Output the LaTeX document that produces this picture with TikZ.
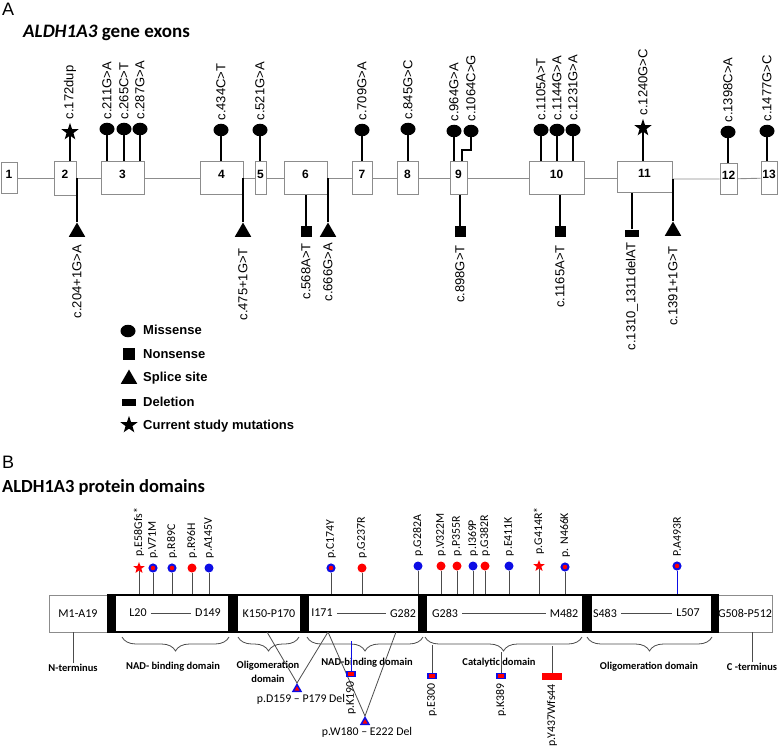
\documentclass[tikz,border=0pt]{standalone}
\usepackage{fontspec}
\setmainfont{Liberation Sans}
\newfontfamily\calibri{Carlito}
\usepackage{tikz}
\usetikzlibrary{shapes.geometric,decorations.pathreplacing,calc,positioning}
\definecolor{boxgray}{rgb}{0.55,0.55,0.55}
\definecolor{stemgray}{rgb}{0.3,0.3,0.3}
\definecolor{mutblue}{rgb}{0.05,0.05,0.9}
\definecolor{mutred}{rgb}{1,0,0}

\begin{document}
\begin{tikzpicture}[x=1pt,y=-1pt,
        exon/.style={draw=boxgray, fill=white, line width=0.9pt, inner sep=0pt, minimum height=33pt,
            text depth=8pt, font=\fontsize{12}{12}\selectfont\bfseries},
        miss/.style={ellipse, fill=black, minimum width=15pt, minimum height=12.5pt, inner sep=0pt},
        nons/.style={rectangle, fill=black, minimum size=11pt, inner sep=0pt},
        splice/.style={regular polygon, regular polygon sides=3, fill=black, minimum size=19pt, inner sep=0pt},
        dele/.style={rectangle, fill=black, minimum width=14pt, minimum height=7pt, inner sep=0pt},
        cstar/.style={star, star points=5, star point ratio=2.5, fill=black, minimum size=18pt, inner sep=0pt},
        stem/.style={line width=1.4pt},
        backbone/.style={draw=boxgray, line width=0.9pt},
        clab/.style={rotate=90, inner sep=1pt, font=\fontsize{13}{13}\selectfont},
        keytxt/.style={anchor=west, inner sep=0pt, font=\fontsize{13}{13}\selectfont\bfseries},
        dom/.style={draw=boxgray, fill=white, line width=0.8pt, minimum height=37pt, inner sep=0pt,
            font=\calibri\fontsize{12}{12}\selectfont},
        core/.style={dom, draw=black, line width=1.8pt},
        bar/.style={fill=black, minimum height=38.8pt, inner sep=0pt},
        dtxt/.style={inner sep=4pt, font=\calibri\fontsize{12}{12}\selectfont},
        gline/.style={draw=stemgray, line width=0.8pt},
        pstem/.style={draw=stemgray, line width=1pt},
        redhead/.style={circle, fill=mutred, minimum size=9pt, inner sep=0pt},
        bluehead/.style={circle, fill=mutblue, minimum size=9pt, inner sep=0pt},
        mixhead/.style={circle, fill=mutred, draw=mutblue, line width=2pt, minimum size=7pt, inner sep=0pt},
        redstar/.style={star, star points=5, star point ratio=2.4, fill=mutred, minimum size=12pt, inner sep=0pt},
        plab/.style={rotate=90, anchor=west, inner sep=1pt, font=\calibri\fontsize{11.8}{11.8}\selectfont},
        bsq/.style={rectangle, fill=mutred, draw=mutblue, line width=1.8pt, minimum width=8pt, minimum height=5pt, inner sep=0pt},
        deltri/.style={regular polygon, regular polygon sides=3, fill=mutred, draw=mutblue, line width=1.5pt,
            minimum size=9pt, inner sep=0pt},
        domlab/.style={inner sep=1pt, font=\calibri\fontsize{10.5}{14}\selectfont\bfseries},
        dellab/.style={inner sep=1pt, font=\calibri\fontsize{11.8}{11.8}\selectfont},
        brc/.style={draw=stemgray, line width=0.8pt, decorate, decoration={brace, mirror, amplitude=14pt}}
    ]
    \useasboundingbox (0,0) rectangle (778,746);

    %Panel A
    \node[anchor=west, inner sep=0pt, font=\fontsize{18}{18}\selectfont] (labA) at (2,9) {A};
    \node[anchor=west, inner sep=0pt, font=\calibri\fontsize{19}{19}\selectfont\bfseries] (titA) at (23,33) {\textit{ALDH1A3} gene exons};

    %Exons
    \node[exon, minimum width=16pt, minimum height=31pt] (e1) at (9,178) {1};
    \node[exon, minimum width=22pt, minimum height=34pt] (e2) at (65,178) {2};
    \node[exon, minimum width=43pt] (e3) at (122.5,178) {3};
    \node[exon, minimum width=43pt] (e4) at (221.5,178) {4};
    \node[exon, minimum width=11pt] (e5) at (260.5,178) {5};
    \node[exon, minimum width=43pt] (e6) at (305.5,178) {6};
    \node[exon, minimum width=20pt] (e7) at (362,178) {7};
    \node[exon, minimum width=21pt] (e8) at (407.5,178) {8};
    \node[exon, minimum width=17pt] (e9) at (458.5,178) {9};
    \node[exon, minimum width=55pt] (e10) at (556.5,178) {10};
    \node[exon, minimum width=55pt, minimum height=31pt] (e11) at (644.5,177) {11};
    \node[exon, minimum width=17pt, minimum height=31pt] (e12) at (728.5,179) {12};
    \node[exon, minimum width=16pt] (e13) at (769,178) {13};

    %Backbone
    \draw[backbone] (e1) -- (e2) -- (e3) -- (e4) -- (e5) -- (e6) -- (e7) -- (e8) -- (e9) -- (e10);
    \draw[backbone] (e10) -- (e11.west |- e10.east);
    \draw[backbone] (e11.east |- e12.west) -- (e12) -- (e13);

    %Mutations above
    \node[cstar] (m172) at (70,132) {};
    \node[miss] (m211) at (107,129) {};
    \node[miss] (m265) at (124,129) {};
    \node[miss] (m287) at (140,129) {};
    \node[miss] (m434) at (221,130) {};
    \node[miss] (m521) at (260,130) {};
    \node[miss] (m709) at (362,130) {};
    \node[miss] (m845) at (408,129) {};
    \node[miss] (m964) at (454,131) {};
    \node[miss] (m1064) at (471,131) {};
    \node[miss] (m1105) at (541,130) {};
    \node[miss] (m1144) at (557,130) {};
    \node[miss] (m1231) at (573,130) {};
    \node[cstar] (m1240) at (643,128) {};
    \node[miss] (m1398) at (728,132) {};
    \node[miss] (m1477) at (767,131) {};
    \coordinate (j1064) at (462,150);

    \draw[stem] (m172) -- (m172 |- e2.north);
    \draw[stem] (m211) -- (m211 |- e3.north);
    \draw[stem] (m265) -- (m265 |- e3.north);
    \draw[stem] (m287) -- (m287 |- e3.north);
    \draw[stem] (m434) -- (m434 |- e4.north);
    \draw[stem] (m521) -- (m521 |- e5.north);
    \draw[stem] (m709) -- (m709 |- e7.north);
    \draw[stem] (m845) -- (m845 |- e8.north);
    \draw[stem] (m964) -- (m964 |- e9.north);
    \draw[stem] (m1064) |- (j1064) -- (j1064 |- e9.north);
    \draw[stem] (m1105) -- (m1105 |- e10.north);
    \draw[stem] (m1144) -- (m1144 |- e10.north);
    \draw[stem] (m1231) -- (m1231 |- e10.north);
    \draw[stem] (m1240) -- (m1240 |- e11.north);
    \draw[stem] (m1398) -- (m1398 |- e12.north);
    \draw[stem] (m1477) -- (m1477 |- e13.north);

    \node[clab, anchor=west] (l172) at ([yshift=2pt]m172.north) {c.172dup};
    \node[clab, anchor=west] (l211) at ([yshift=2pt]m211.north) {c.211G>A};
    \node[clab, anchor=west] (l265) at ([yshift=2pt]m265.north) {c.265C>T};
    \node[clab, anchor=west] (l287) at ([yshift=2pt]m287.north) {c.287G>A};
    \node[clab, anchor=west] (l434) at ([yshift=2pt]m434.north) {c.434C>T};
    \node[clab, anchor=west] (l521) at ([yshift=2pt]m521.north) {c.521G>A};
    \node[clab, anchor=west] (l709) at ([yshift=2pt]m709.north) {c.709G>A};
    \node[clab, anchor=west] (l845) at ([yshift=2pt]m845.north) {c.845G>C};
    \node[clab, anchor=west] (l964) at ([yshift=2pt]m964.north) {c.964G>A};
    \node[clab, anchor=west] (l1064) at ([yshift=2pt]m1064.north) {c.1064C>G};
    \node[clab, anchor=west] (l1105) at ([yshift=2pt]m1105.north) {c.1105A>T};
    \node[clab, anchor=west] (l1144) at ([yshift=2pt]m1144.north) {c.1144G>A};
    \node[clab, anchor=west] (l1231) at ([yshift=2pt]m1231.north) {c.1231G>A};
    \node[clab, anchor=west] (l1240) at ([yshift=2pt]m1240.north) {c.1240G>C};
    \node[clab, anchor=west] (l1398) at ([yshift=2pt]m1398.north) {c.1398C>A};
    \node[clab, anchor=west] (l1477) at ([yshift=2pt]m1477.north) {c.1477G>C};

    %Mutations below
    \node[splice, anchor=south] (s204) at (77,237) {};
    \node[splice, anchor=south] (s475) at (243,237) {};
    \node[nons] (n568) at (306,231.5) {};
    \node[splice, anchor=south] (s666) at (328,237) {};
    \node[nons] (n898) at (460,231.5) {};
    \node[nons] (n1165) at (560,231.5) {};
    \node[dele] (d1310) at (632,233) {};
    \node[splice, anchor=south] (s1391) at (673,236) {};

    \draw[stem] (s204) -- (s204 |- e2.east);
    \draw[stem] (s475) -- (s475 |- e4.east);
    \draw[stem] (n568) -- (n568 |- e6.south);
    \draw[stem] (s666) -- (s666 |- e6.east);
    \draw[stem] (n898) -- (n898 |- e9.south);
    \draw[stem] (n1165) -- (n1165 |- e10.south);
    \draw[stem] (d1310) -- (d1310 |- e11.south);
    \draw[stem] (s1391) -- (s1391 |- e12.west);

    \node[clab, anchor=east] (l204) at ([yshift=-7pt]s204.south) {c.204+1G>A};
    \node[clab, anchor=east] (l475) at ([yshift=-10pt]s475.south) {c.475+1G>T};
    \node[clab, anchor=east] (l568) at ([yshift=-5pt]n568.south) {c.568A>T};
    \node[clab, anchor=east] (l666) at ([yshift=-5pt]s666.south) {c.666G>A};
    \node[clab, anchor=east] (l898) at ([yshift=-7pt]n898.south) {c.898G>T};
    \node[clab, anchor=east] (l1165) at ([yshift=-7pt]n1165.south) {c.1165A>T};
    \node[clab, anchor=east] (l1310) at ([yshift=-5pt]d1310.south) {c.1310\_1311delAT};
    \node[clab, anchor=east] (l1391) at ([yshift=-9pt]s1391.south) {c.1391+1G>T};

    %Key
    \node[miss] (kmiss) at (128,331) {};
    \node[nons, minimum size=12pt] (knons) at (129,354) {};
    \node[splice, anchor=south] (kspl) at (129,384) {};
    \node[dele] (kdel) at (129,402) {};
    \node[cstar] (kstar) at (129,425) {};
    \node[keytxt] (tmiss) at (143,330) {Missense};
    \node[keytxt] (tnons) at (143,354) {Nonsense};
    \node[keytxt] (tspl) at (143,378) {Splice site};
    \node[keytxt] (tdel) at (143,402) {Deletion};
    \node[keytxt] (tstar) at (143,426) {Current study mutations};

    %Panel B
    \node[anchor=west, inner sep=0pt, font=\fontsize{18}{18}\selectfont] (labB) at (2,462) {B};
    \node[anchor=west, inner sep=0pt, font=\calibri\fontsize{18.5}{18.5}\selectfont\bfseries] (titB) at (2,487) {ALDH1A3 protein domains};

    %Domains
    \node[dom, minimum width=58pt] (dM) at (78,613.5) {M1-A19};
    \node[core, minimum width=114pt] (dL) at (172,613.5) {};
    \node[core, minimum width=64pt] (dK) at (269,613.5) {K150-P170};
    \node[core, minimum width=111pt] (dI) at (363.5,613.5) {};
    \node[core, minimum width=157pt] (dG) at (504.5,613.5) {};
    \node[core, minimum width=121pt] (dS) at (651.5,613.5) {};
    \node[dom, minimum width=52pt] (dC) at (745,613.5) {G508-P512};
    \node[bar, minimum width=8pt] (b1) at (111,613.5) {};
    \node[bar, minimum width=8pt] (b2) at (233,613.5) {};
    \node[bar, minimum width=7pt] (b3) at (304.5,613.5) {};
    \node[bar, minimum width=7pt] (b4) at (422.5,613.5) {};
    \node[bar, minimum width=8pt] (b5) at (587,613.5) {};
    \node[bar, minimum width=7pt] (b6) at (715.5,613.5) {};

    \node[dtxt] (tL20) at (138,613) {L20};
    \node[dtxt] (tD149) at (208,613) {D149};
    \node[dtxt] (tI171) at (322,613) {I171};
    \node[dtxt] (tG282) at (403,613) {G282};
    \node[dtxt] (tG283) at (445,613) {G283};
    \node[dtxt] (tM482) at (564,613) {M482};
    \node[dtxt] (tS483) at (605,613) {S483};
    \node[dtxt] (tL507) at (688,613) {L507};
    \draw[gline] (tL20) -- (tD149);
    \draw[gline] (tI171) -- (tG282);
    \draw[gline] (tG283) -- (tM482);
    \draw[gline] (tS483) -- (tL507);

    %Protein mutations above
    \node[redstar] (p58) at (139,568) {};
    \node[mixhead] (p71) at (153,568) {};
    \node[mixhead] (p89) at (172,568) {};
    \node[redhead] (p96) at (192,568) {};
    \node[bluehead] (p145) at (209,568) {};
    \node[mixhead] (p174) at (331,568) {};
    \node[redhead] (p237) at (362,568) {};
    \node[bluehead] (p282) at (418,566) {};
    \node[redhead] (p322) at (441,566) {};
    \node[redhead] (p355) at (457,566) {};
    \node[bluehead] (p369) at (473,566) {};
    \node[redhead] (p382) at (485,566) {};
    \node[bluehead] (p411) at (509,566) {};
    \node[redstar] (p414) at (539,566) {};
    \node[mixhead] (p466) at (565,567) {};
    \node[mixhead] (p493) at (677,566) {};

    \draw[pstem] (p58) -- (p58 |- dL.north);
    \draw[pstem] (p71) -- (p71 |- dL.north);
    \draw[pstem] (p89) -- (p89 |- dL.north);
    \draw[pstem] (p96) -- (p96 |- dL.north);
    \draw[pstem] (p145) -- (p145 |- dL.north);
    \draw[pstem] (p174) -- (p174 |- dI.north);
    \draw[pstem] (p237) -- (p237 |- dI.north);
    \draw[pstem] (p282) -- (p282 |- dI.north);
    \draw[pstem] (p322) -- (p322 |- dG.north);
    \draw[pstem] (p355) -- (p355 |- dG.north);
    \draw[pstem] (p369) -- (p369 |- dG.north);
    \draw[pstem] (p382) -- (p382 |- dG.north);
    \draw[pstem] (p411) -- (p411 |- dG.north);
    \draw[pstem] (p414) -- (p414 |- dG.north);
    \draw[pstem] (p466) -- (p466 |- dG.north);
    \draw[pstem, draw=mutblue] (p493) -- (p493 |- dS.north);

    \node[plab] (q58) at ([yshift=4pt]p58.north) {p.E58Gfs*};
    \node[plab] (q71) at ([yshift=4pt]p71.north) {p.V71M};
    \node[plab] (q89) at ([yshift=4pt]p89.north) {p.R89C};
    \node[plab] (q96) at ([yshift=4pt]p96.north) {p.R96H};
    \node[plab] (q145) at ([yshift=4pt]p145.north) {p.A145V};
    \node[plab] (q174) at ([yshift=4pt]p174.north) {p.C174Y};
    \node[plab] (q237) at ([yshift=4pt]p237.north) {p.G237R};
    \node[plab] (q282) at ([yshift=4pt]p282.north) {p.G282A};
    \node[plab] (q322) at ([yshift=4pt]p322.north) {p.V322M};
    \node[plab] (q355) at ([yshift=4pt]p355.north) {p.P355R};
    \node[plab] (q369) at ([yshift=4pt]p369.north) {p.I369P};
    \node[plab] (q382) at ([yshift=4pt]p382.north) {p.G382R};
    \node[plab] (q411) at ([yshift=4pt]p411.north) {p.E411K};
    \node[plab] (q414) at ([yshift=4pt]p414.north) {p.G414R*};
    \node[plab] (q466) at ([yshift=4pt]p466.north) {p. N466K};
    \node[plab] (q493) at ([yshift=4pt]p493.north) {P.A493R};

    %Braces and domain names
    \draw[brc] (122,637) -- (229,637);
    \draw[brc] (238,637) -- (299,637);
    \draw[brc] (307,637) -- (423,637);
    \draw[brc] (425,637) -- (582,637);
    \draw[brc] (587,637) -- (712,637);

    \node[domlab] (nterm) at (73,668) {N-terminus};
    \node[domlab] (cterm) at (752,667) {C -terminus};
    \draw[pstem] (nterm) -- (nterm |- dM.south);
    \draw[pstem] (cterm) -- (cterm |- dC.south);
    \node[domlab] (nad1) at (173,667) {NAD- binding domain};
    \node[domlab, align=center] (olig1) at (268,672) {Oligomeration\\domain};
    \node[domlab] (nad2) at (367,663) {NAD-binding domain};
    \node[domlab] (cat) at (499,663) {Catalytic domain};
    \node[domlab] (olig2) at (649,667) {Oligomeration domain};

    %Deletions
    \node[deltri, anchor=south] (dl1) at (297,692) {};
    \node[deltri, anchor=south] (dl2) at (365,725) {};
    \coordinate (v1a) at (267,632);
    \coordinate (v1b) at (328,632);
    \coordinate (v2b) at (396,632);
    \draw[pstem, line width=0.8pt] (v1a) -- (dl1.north) -- (v1b);
    \draw[pstem, line width=0.8pt] (v1b) -- (dl2.north) -- (v2b);
    \node[dellab] (tdl1) at (301,699) {p.D159 \textendash{} P179 Del};
    \node[dellab] (tdl2) at (367,732) {p.W180 \textendash{} E222 Del};

    %Protein mutations below
    \node[bsq] (k190) at (351,674) {};
    \node[bsq] (e300) at (432,676) {};
    \node[bsq] (k389) at (501,676) {};
    \node[rectangle, fill=mutred, minimum width=20pt, minimum height=7pt, inner sep=0pt] (y437) at (552,676.5) {};
    \coordinate (k190top) at (351,641);
    \coordinate (e300top) at (432,645);
    \coordinate (k389top) at (501,652);
    \coordinate (y437top) at (552,646);
    \draw[pstem, draw=mutblue] (k190top) -- (k190);
    \draw[pstem] (e300top) -- (e300);
    \draw[pstem] (k389top) -- (k389);
    \draw[pstem] (y437top) -- (y437);
    \node[plab, anchor=east] (r190) at ([yshift=-3pt]k190.south) {p.K190};
    \node[plab, anchor=east] (r300) at ([yshift=-3pt]e300.south) {p.E300};
    \node[plab, anchor=east] (r389) at ([yshift=-3pt]k389.south) {p.K389};
    \node[plab, anchor=east] (r437) at ([yshift=-3pt]y437.south) {p.Y437Wfs44};
\end{tikzpicture}
\end{document}
